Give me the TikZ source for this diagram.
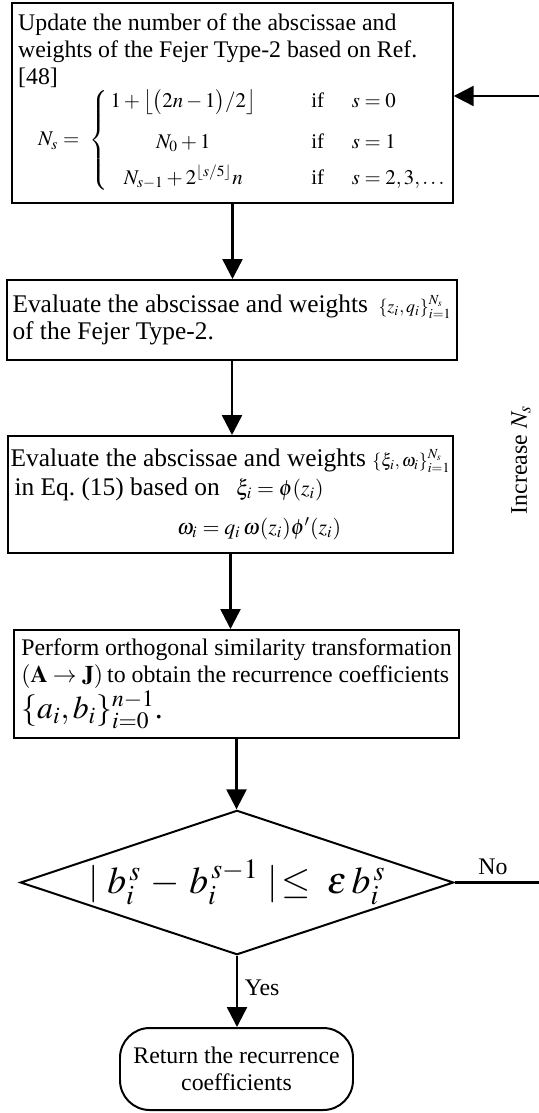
\documentclass[tikz,border=0pt]{standalone}
\usepackage{amsmath}
\usepackage{mathptmx}
\usepackage[no-math]{fontspec}
\setmainfont{Liberation Serif}
\usetikzlibrary{shapes.geometric,arrows.meta}

\tikzset{
    procbox/.style={draw, line width=1pt, rectangle, align=left, inner xsep=3pt},
    bigtext/.style={font=\fontsize{12.8}{13.6}\selectfont},
    flow/.style={line width=1.25pt, -{Triangle[length=10pt,width=10pt]}},
}
\newcommand{\smallmath}[1]{{\fontsize{9}{11}\selectfont$#1$}}

\begin{document}
\begin{tikzpicture}[x=0.504pt, y=-0.504pt, font=\fontsize{12}{13.5}\selectfont]
        \def\pxl{0.504pt}
        \useasboundingbox (0,0) rectangle (538,1113);

        % process boxes, top to bottom
        \node[procbox, minimum width=438*\pxl, minimum height=200*\pxl] (update) at (232.5,103) {%
            Update the number of the abscissae and\\
            weights of the Fejer Type-2 based on Ref.\\{}[48]\\
            \hspace*{10pt}{\fontsize{10.5}{12.6}\selectfont$
            N_s=\hspace{3pt}\left\{\begin{array}{@{\,}c@{\hspace{28pt}}l@{\hspace{14pt}}l@{}}
                1+\big\lfloor\big(2n-1\big)/2\big\rfloor & \mbox{if} & s=0\\[8pt]
                N_0+1 & \mbox{if} & s=1\\[5pt]
                N_{s-1}+2^{\lfloor s/5\rfloor}n & \mbox{if} & s=2,3,\ldots
            \end{array}\right.$}};
        \node[procbox, bigtext, minimum width=440*\pxl, minimum height=80*\pxl] (evalz) at (232,320) {%
            Evaluate the abscissae and weights \,\smallmath{\{z_i,q_i\}_{i=1}^{N_s}}\\
            of the Fejer Type-2.};
        \node[procbox, bigtext, inner xsep=1.5pt, font=\fontsize{12.8}{14.5}\selectfont, minimum width=445*\pxl,
            minimum height=117*\pxl] (evalxi) at (230.5,494.5) {%
            Evaluate the abscissae and weights \smallmath{\{\xi_i,\omega_i\}_{i=1}^{N_s}}\\
            \hspace*{2pt}in Eq.~(15) based on \hspace{5pt}{\fontsize{11}{13}\selectfont$\xi_i=\phi(z_i)$}\\[5pt]
            \hspace*{84pt}{\fontsize{11}{13}\selectfont$\omega_i=q_i\,\omega(z_i)\phi'(z_i)$}};
        \node[procbox, minimum width=445*\pxl, minimum height=108*\pxl] (ortho) at (236.5,684) {%
            Perform orthogonal similarity transformation\\
            $(\mathbf{A}\rightarrow\mathbf{J})$\,to obtain the recurrence coefficients\\
            {\fontsize{16}{17}\selectfont$\{a_i,b_i\}_{i=0}^{n-1}$.}};

        % convergence test and end
        \node[draw, diamond, aspect=3, inner sep=0pt, line width=1pt,
            minimum width=420*\pxl, minimum height=139*\pxl] (check) at (237,882.5)
            {\fontsize{19}{22}\selectfont$|\;b_i^{\,s}\,-\,b_i^{\,s-1}\;|\!\le\;\varepsilon\,b_i^{\,s}$};
        \node[draw, line width=1pt, rounded corners=15pt, align=center,
            minimum width=233*\pxl, minimum height=82*\pxl] (ret) at (236.5,1069)
            {Return the recurrence\\coefficients};

        \node[rotate=90] (incr) at (521,460) {Increase $N_s$};
        \coordinate (back) at (548,96);

        \draw[flow] (update.south) -- (update.south |- evalz.north);
        \draw[flow] (evalz.south) -- (evalz.south |- evalxi.north);
        \draw[flow] (evalxi.south) -- (evalxi.south |- ortho.north);
        \draw[flow] (ortho.south) -- (ortho.south |- check.north);
        \draw[flow] (check.south) -- node[right, pos=0.45] {Yes} (check.south |- ret.north);
        \draw[flow] (check.east) -- node[above, pos=0.41] {No} (check.east -| back)
            -- (back) -- (update.east |- back);
    \end{tikzpicture}
\end{document}
